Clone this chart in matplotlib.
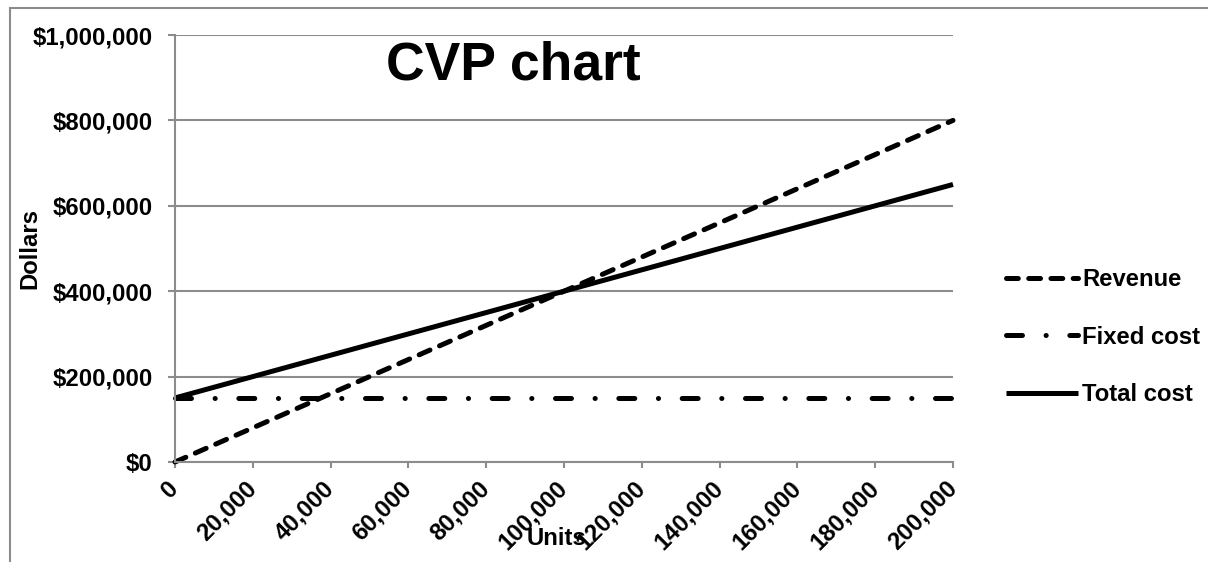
import matplotlib
matplotlib.use('Agg')
import matplotlib.pyplot as plt
from matplotlib.patches import Rectangle
from matplotlib.ticker import FuncFormatter

plt.rcParams['font.family'] = ['Liberation Sans', 'DejaVu Sans']
plt.rcParams['font.weight'] = 'bold'
plt.rcParams['lines.scale_dashes'] = False

# datos
units = [0, 20000, 40000, 60000, 80000, 100000, 120000, 140000, 160000, 180000, 200000]
revenue = [0, 80000, 160000, 240000, 320000, 400000, 480000, 560000, 640000, 720000, 800000]
fixed_cost = [150000, 150000, 150000, 150000, 150000, 150000, 150000, 150000, 150000, 150000, 150000]
total_cost = [150000, 200000, 250000, 300000, 350000, 400000, 450000, 500000, 550000, 600000, 650000]
y_ticks = [0, 200000, 400000, 600000, 800000, 1000000]

GRAY = '#8c8c8c'
FS = 17.2
W, H = 1208, 562

fig = plt.figure(figsize=(W / 100, H / 100), dpi=100)
ax = fig.add_axes([175 / W, 1 - 462 / H, (953 - 175) / W, (462 - 35) / H])

lw = 3.6
ax.plot(units, revenue, color='black', lw=lw, dashes=(8.5, 7.5),
        dash_capstyle='round', solid_capstyle='round', label='Revenue', clip_on=False)
ax.plot(units, fixed_cost, color='black', lw=lw, dashes=(11.5, 17, 0.1, 17),
        dash_capstyle='round', label='Fixed cost', clip_on=False)
ax.plot(units, total_cost, color='black', lw=lw, solid_capstyle='butt',
        label='Total cost', clip_on=False)

ax.set_xlim(0, 200000)
ax.set_ylim(0, 1000000)
ax.set_xticks(units)
ax.set_yticks(y_ticks)
ax.xaxis.set_major_formatter(FuncFormatter(lambda v, p: f'{int(v):,}'))
ax.yaxis.set_major_formatter(FuncFormatter(lambda v, p: f'${int(v):,}'))

ax.grid(axis='y', color=GRAY, lw=1.5)
ax.set_axisbelow(True)
for s in ['top', 'right']:
    ax.spines[s].set_visible(False)
for s in ['left', 'bottom']:
    ax.spines[s].set_color(GRAY)
    ax.spines[s].set_linewidth(1.5)

ax.tick_params(axis='y', length=5, width=1.5, color=GRAY, pad=11, labelsize=FS)
ax.tick_params(axis='x', length=4.5, width=1.5, color=GRAY, pad=12, labelsize=FS)
for t in ax.get_xticklabels():
    t.set_rotation(45)
    t.set_ha('right')
    t.set_va('center')
    t.set_rotation_mode('anchor')

ax.set_xlabel('Units', fontsize=FS, fontweight='bold')
ax.xaxis.set_label_coords(0.49, -0.152)
ax.set_ylabel('Dollars', fontsize=FS, fontweight='bold')
ax.yaxis.set_label_coords(-0.172, 0.5)

fig.text(513 / W, 1 - 65 / H, 'CVP chart', fontsize=38.5, fontweight='bold',
         ha='center', va='center')

fig.legend(loc='center left', bbox_to_anchor=(1006 / W, 1 - 337 / H),
           frameon=False, fontsize=FS, handlelength=3.0, handletextpad=0.2,
           labelspacing=1.45, borderpad=0, borderaxespad=0)

fig.patches.append(Rectangle((10 / W, -0.1), 1.2, 1 - 8 / H + 0.1,
                             transform=fig.transFigure, fill=False,
                             edgecolor=GRAY, lw=1.5))

fig.savefig('out.png', dpi=100)
